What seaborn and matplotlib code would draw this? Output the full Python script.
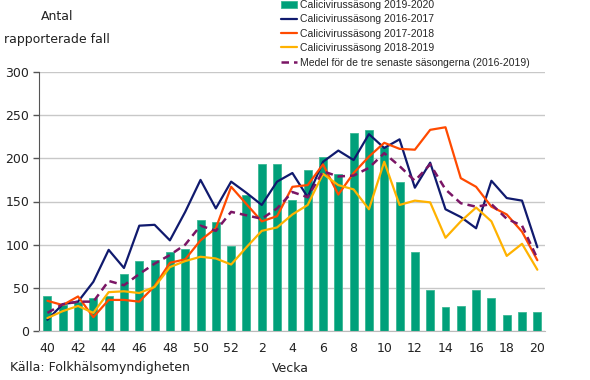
from matplotlib import pyplot as plt
import seaborn as sns
import pandas as pd

weeks = [str(w) for w in list(range(40, 53)) + list(range(1, 21))]

season_2019_2020 = [40, 30, 34, 38, 40, 66, 81, 82, 92, 95, 129, 126, 98,
                    157, 193, 194, 152, 187, 201, 182, 229, 233, 213, 173,
                    92, 48, 28, 29, 48, 38, 19, 22, 22]
season_2016_2017 = [13, 31, 34, 57, 94, 73, 122, 123, 105, 138, 175, 142, 173,
                    160, 146, 173, 183, 155, 196, 209, 198, 228, 212, 222,
                    166, 195, 141, 132, 119, 174, 154, 151, 97]
season_2017_2018 = [35, 30, 40, 16, 36, 36, 34, 52, 79, 83, 105, 119, 167,
                    147, 127, 133, 167, 169, 193, 158, 183, 202, 218, 211,
                    210, 233, 236, 177, 167, 144, 135, 115, 82]
season_2018_2019 = [15, 23, 29, 21, 45, 46, 44, 51, 74, 81, 86, 84, 77,
                    97, 116, 120, 135, 146, 182, 169, 164, 141, 196, 146,
                    151, 149, 108, 127, 143, 127, 87, 101, 71]
mean_2016_2019 = [21, 31, 34, 34, 58, 53, 66, 78, 88, 100, 122, 116, 138,
                  134, 130, 142, 161, 155, 185, 179, 180, 189, 206, 191,
                  174, 193, 164, 148, 144, 147, 130, 122, 84]

df = pd.DataFrame({
    'Vecka': weeks,
    '2019-2020': season_2019_2020,
    '2016-2017': season_2016_2017,
    '2017-2018': season_2017_2018,
    '2018-2019': season_2018_2019,
    'Medel': mean_2016_2019,
})

sns.set_style("white")
plt.rcParams['font.family'] = ['DejaVu Sans']

fig = plt.figure(figsize=(5.9, 3.8), dpi=100)
ax = fig.add_axes([39 / 590, 1 - 331 / 380, 506 / 590, 259 / 380])

ax.yaxis.grid(True, color='#c8c8c8', linewidth=1)
ax.set_axisbelow(True)

sns.barplot(data=df, x='Vecka', y='2019-2020', color='#00A07A', width=0.52,
            saturation=1, edgecolor='#3cb894', linewidth=0.6, ax=ax,
            label='Calicivirussäsong 2019-2020')

lines = [
    ('2016-2017', '#101A6E', 'Calicivirussäsong 2016-2017'),
    ('2017-2018', '#FF4A00', 'Calicivirussäsong 2017-2018'),
    ('2018-2019', '#FFB200', 'Calicivirussäsong 2018-2019'),
]
for col, c, lab in lines:
    sns.lineplot(data=df, x='Vecka', y=col, color=c, linewidth=1.6,
                 sort=False, ax=ax, label=lab)
sns.lineplot(data=df, x='Vecka', y='Medel', color='#7A1565', linewidth=1.8,
             sort=False, ax=ax, linestyle=(0, (3, 2)),
             label='Medel för de tre senaste säsongerna (2016-2019)')

ax.set_ylim(0, 300)
ax.set_xlim(-0.55, 32.5)
ax.set_yticks(range(0, 301, 50))
ax.set_xticks(range(0, len(weeks), 2))
ax.set_xticklabels(weeks[::2])
ax.tick_params(axis='y', labelsize=9, length=4, width=1, color='#555555',
               direction='out', left=True, pad=3, labelcolor='#222222')
ax.tick_params(axis='x', labelsize=9, length=0, pad=8, labelcolor='#222222')
ax.set_xlabel('')
ax.set_ylabel('')
for s in ['top', 'right']:
    ax.spines[s].set_visible(False)
ax.spines['left'].set_color('#555555')
ax.spines['bottom'].set_color('#bbbbbb')

fig.text(57 / 590, 1 - 16 / 380, 'Antal', ha='center', va='center',
         fontsize=9, color='#222222')
fig.text(57 / 590, 1 - 39 / 380, 'rapporterade fall', ha='center',
         va='center', fontsize=9, color='#222222')
fig.text(10 / 590, 1 - 368 / 380, 'Källa: Folkhälsomyndigheten', ha='left',
         va='center', fontsize=9, color='#222222')
fig.text(290 / 590, 1 - 368 / 380, 'Vecka', ha='center', va='center',
         fontsize=9, color='#222222')

# bars first in legend, like the original
handles, labels = ax.get_legend_handles_labels()
order = [labels.index(l) for l in
         ['Calicivirussäsong 2019-2020', 'Calicivirussäsong 2016-2017',
          'Calicivirussäsong 2017-2018', 'Calicivirussäsong 2018-2019',
          'Medel för de tre senaste säsongerna (2016-2019)']]
ax.legend([handles[i] for i in order], [labels[i] for i in order],
          loc='upper left', bbox_to_anchor=(281 / 590, 1.0),
          bbox_transform=fig.transFigure, frameon=False, borderpad=0,
          borderaxespad=0, handlelength=1.5, handletextpad=0.3,
          labelspacing=0.42, prop={'family': 'Liberation Sans', 'size': 7.5})

fig.savefig('out.png', dpi=100)
